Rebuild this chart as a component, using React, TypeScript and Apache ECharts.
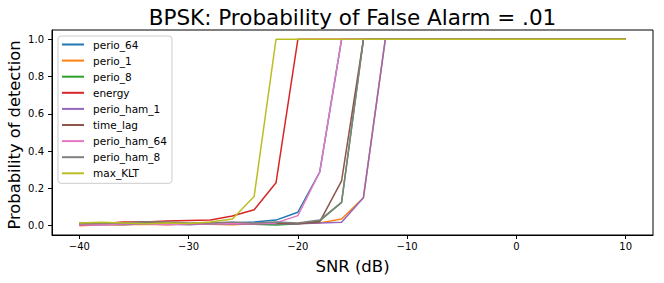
import React, { useEffect, useRef } from "react";
import * as echarts from "echarts";

const snr = [-40, -38, -36, -34, -32, -30, -28, -26, -24, -22, -20, -18, -16, -14, -12, -10, -8, -6, -4, -2, 0, 2, 4, 6, 8, 10];

const seriesNames = ["perio_64", "perio_1", "perio_8", "energy", "perio_ham_1", "time_lag", "perio_ham_64", "perio_ham_8", "max_KLT"];
const seriesColors = ["#1f77b4", "#ff7f0e", "#2ca02c", "#d62728", "#9467bd", "#8c564b", "#e377c2", "#7f7f7f", "#bcbd22"];

const perio64 = [0.010, 0.008, 0.005, 0.010, 0.008, 0.010, 0.012, 0.015, 0.020, 0.030, 0.072, 0.288, 1, 1, 1, 1, 1, 1, 1, 1, 1, 1, 1, 1, 1, 1];
const perio1 = [0.000, 0.005, 0.005, 0.008, 0.005, 0.010, 0.008, 0.005, 0.010, 0.010, 0.012, 0.015, 0.036, 0.150, 1, 1, 1, 1, 1, 1, 1, 1, 1, 1, 1, 1];
const perio8 = [0.010, 0.012, 0.010, 0.012, 0.015, 0.010, 0.010, 0.012, 0.008, 0.003, 0.010, 0.025, 0.125, 1, 1, 1, 1, 1, 1, 1, 1, 1, 1, 1, 1, 1];
const energy = [0.005, 0.010, 0.020, 0.020, 0.025, 0.028, 0.030, 0.052, 0.085, 0.230, 1, 1, 1, 1, 1, 1, 1, 1, 1, 1, 1, 1, 1, 1, 1, 1];
const perioHam1 = [0.005, 0.005, 0.008, 0.010, 0.008, 0.005, 0.010, 0.010, 0.010, 0.010, 0.010, 0.015, 0.018, 0.150, 1, 1, 1, 1, 1, 1, 1, 1, 1, 1, 1, 1];
const timeLag = [0.015, 0.010, 0.015, 0.020, 0.015, 0.010, 0.015, 0.012, 0.010, 0.015, 0.010, 0.020, 0.240, 1, 1, 1, 1, 1, 1, 1, 1, 1, 1, 1, 1, 1];
const perioHam64 = [0.005, 0.005, 0.010, 0.010, 0.005, 0.010, 0.010, 0.010, 0.010, 0.015, 0.054, 0.288, 1, 1, 1, 1, 1, 1, 1, 1, 1, 1, 1, 1, 1, 1];
const perioHam8 = [0.010, 0.012, 0.015, 0.020, 0.020, 0.015, 0.015, 0.020, 0.015, 0.020, 0.015, 0.030, 0.125, 1, 1, 1, 1, 1, 1, 1, 1, 1, 1, 1, 1, 1];
const maxKLT = [0.015, 0.018, 0.015, 0.010, 0.015, 0.012, 0.020, 0.036, 0.157, 1, 1, 1, 1, 1, 1, 1, 1, 1, 1, 1, 1, 1, 1, 1, 1, 1];

const seriesValues = [perio64, perio1, perio8, energy, perioHam1, timeLag, perioHam64, perioHam8, maxKLT];

const xTicks = [-40, -30, -20, -10, 0, 10];
const yTicks = [0, 0.2, 0.4, 0.6, 0.8, 1.0];

const titleText = "BPSK: Probability of False Alarm = .01";
const xLabel = "SNR (dB)";
const yLabel = "Probability of detection";

const FONT = "DejaVu Sans";

export default function App() {
  const ref = useRef<HTMLDivElement>(null);
  useEffect(() => {
    if (!ref.current) return;
    const chart = echarts.init(ref.current, undefined, { renderer: "svg" });
    const fmtX = (v: number) => (v < 0 ? "\u2212" + Math.abs(v) : String(v));
    chart.setOption({
      animation: false,
      backgroundColor: "#ffffff",
      textStyle: { fontFamily: FONT },
      grid: {
        left: 52,
        right: 11,
        top: 30,
        bottom: 48,
        show: true,
        borderColor: "#000",
        borderWidth: 1,
        backgroundColor: "transparent",
        containLabel: false,
        outerBoundsMode: "none",
      },
      xAxis: {
        type: "value",
        min: -42.5,
        max: 12.5,
        splitLine: { show: false },
        axisLine: { show: true, onZero: false, lineStyle: { color: "#000", width: 1 } },
        axisTick: { show: true, length: 4, lineStyle: { color: "#000" }, customValues: xTicks },
        axisLabel: {
          show: true,
          customValues: xTicks,
          formatter: fmtX,
          color: "#000",
          fontSize: 10,
          fontFamily: FONT,
          margin: 6,
        },
      },
      yAxis: {
        type: "value",
        min: -0.05,
        max: 1.05,
        splitLine: { show: false },
        axisLine: { show: true, onZero: false, lineStyle: { color: "#000", width: 1 } },
        axisTick: { show: true, length: 4, lineStyle: { color: "#000" }, customValues: yTicks },
        axisLabel: {
          show: true,
          customValues: yTicks,
          formatter: (v: number) => v.toFixed(1),
          color: "#000",
          fontSize: 10,
          fontFamily: FONT,
          margin: 8,
        },
      },
      legend: {
        orient: "vertical",
        left: 58,
        top: 36,
        data: seriesNames,
        icon: "rect",
        itemWidth: 22,
        itemHeight: 2,
        itemGap: 4.1,
        padding: [2.5, 5, 4, 4],
        backgroundColor: "rgba(255,255,255,0.8)",
        borderColor: "#cccccc",
        borderWidth: 1,
        borderRadius: 3,
        textStyle: { fontSize: 10.5, lineHeight: 12, color: "#000", fontFamily: FONT, padding: [0, 0, 0, 4] },
      },
      graphic: [
        {
          type: "text",
          x: 352.5,
          y: 17,
          style: { text: titleText, align: "center", verticalAlign: "middle", font: `21.5px "${FONT}"`, fill: "#000" },
        },
        {
          type: "text",
          x: 352.5,
          y: 266.5,
          style: { text: xLabel, align: "center", verticalAlign: "middle", font: `16.5px "${FONT}"`, fill: "#000" },
        },
        {
          type: "text",
          x: 14.8,
          y: 135,
          rotation: Math.PI / 2,
          style: { text: yLabel, align: "center", verticalAlign: "middle", font: `16.3px "${FONT}"`, fill: "#000" },
        },
      ],
      series: seriesNames.map((name, i) => ({
        name,
        type: "line",
        data: snr.map((x, j) => [x, seriesValues[i][j]]),
        showSymbol: false,
        symbol: "none",
        lineStyle: { color: seriesColors[i], width: 1.5 },
        itemStyle: { color: seriesColors[i] },
      })),
    });
    return () => chart.dispose();
  }, []);
  return <div ref={ref} style={{ width: 664, height: 283, position: "absolute", left: 0, top: 0 }} />;
}
